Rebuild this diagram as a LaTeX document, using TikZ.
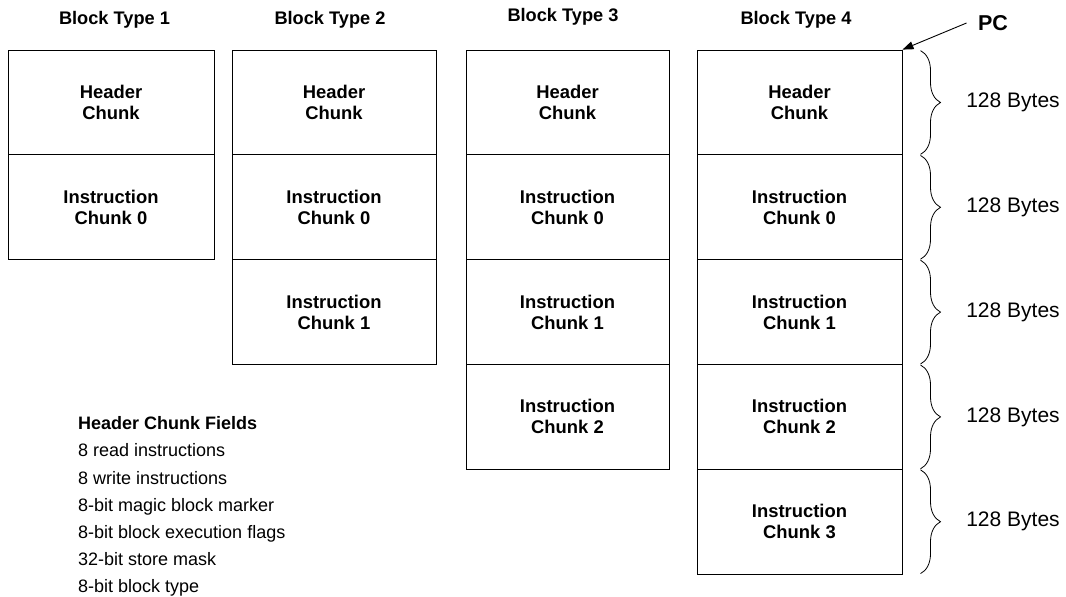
\documentclass[tikz,border=0pt]{standalone}
\usepackage{fontspec}
\setmainfont{Liberation Sans}
\usetikzlibrary{arrows.meta,decorations.pathreplacing}

\begin{document}
\begin{tikzpicture}[x=1pt,y=-1pt,
  chunk/.style={draw, line width=1pt, inner sep=0pt, minimum height=104.8pt,
    align=center, font=\fontsize{18.4}{21}\selectfont\bfseries},
  title/.style={font=\fontsize{18.2}{21}\selectfont\bfseries},
  field/.style={anchor=base west, inner sep=0pt, font=\fontsize{18}{20}\selectfont},
  sizebrace/.style={decorate, decoration={brace, amplitude=20pt}, line width=0.8pt},
  bytes/.style={font=\fontsize{21}{24}\selectfont}]
\useasboundingbox (0,0) rectangle (1066,597);

% column titles
\node[title] (t1) at (114.5,20) {Block Type 1};
\node[title] (t2) at (330,20) {Block Type 2};
\node[title] (t3) at (563,17) {Block Type 3};
\node[title] (t4) at (796,20) {Block Type 4};

% block type 1
\begin{scope}[every node/.append style={minimum width=206pt}]
\node[chunk] (a0) at (111,102.5) {Header\\Chunk};
\node[chunk] (a1) at (111,207.3) {Instruction\\Chunk 0};
\end{scope}

% block type 2
\begin{scope}[every node/.append style={minimum width=204pt}]
\node[chunk] (b0) at (334,102.5) {Header\\Chunk};
\node[chunk] (b1) at (334,207.3) {Instruction\\Chunk 0};
\node[chunk] (b2) at (334,312.1) {Instruction\\Chunk 1};
\end{scope}

% block type 3
\begin{scope}[every node/.append style={minimum width=203pt}]
\node[chunk] (c0) at (567.5,102.5) {Header\\Chunk};
\node[chunk] (c1) at (567.5,207.3) {Instruction\\Chunk 0};
\node[chunk] (c2) at (567.5,312.1) {Instruction\\Chunk 1};
\node[chunk] (c3) at (567.5,416.9) {Instruction\\Chunk 2};
\end{scope}

% block type 4
\begin{scope}[every node/.append style={minimum width=205pt}]
\node[chunk] (d0) at (799.5,102.5) {Header\\Chunk};
\node[chunk] (d1) at (799.5,207.3) {Instruction\\Chunk 0};
\node[chunk] (d2) at (799.5,312.1) {Instruction\\Chunk 1};
\node[chunk] (d3) at (799.5,416.9) {Instruction\\Chunk 2};
\node[chunk] (d4) at (799.5,521.7) {Instruction\\Chunk 3};
\end{scope}

% size braces
\foreach \n in {d0,d1,d2,d3,d4}{
  \draw[sizebrace] ([xshift=18pt,yshift=-1pt]\n.north east) -- ([xshift=18pt,yshift=1pt]\n.south east);
  \node[bytes] at ([xshift=213.5pt]\n.center) {128 Bytes};
}

% program counter
\node[font=\fontsize{21.5}{24}\selectfont\bfseries] (pc) at (993,23) {PC};
\draw[line width=0.9pt, -{Triangle[length=11pt,width=8pt]}] ([xshift=-8pt]pc.west) -- (d0.north east);

% header field list
\node[field, font=\fontsize{18}{20}\selectfont\bfseries] (f0) at (78,429) {Header Chunk Fields};
\node[field] (f1) at (78,456) {8 read instructions};
\node[field] (f2) at (78,484) {8 write instructions};
\node[field] (f3) at (78,511) {8-bit magic block marker};
\node[field] (f4) at (78,538) {8-bit block execution flags};
\node[field] (f5) at (78,565) {32-bit store mask};
\node[field] (f6) at (78,592) {8-bit block type};
\end{tikzpicture}
\end{document}
